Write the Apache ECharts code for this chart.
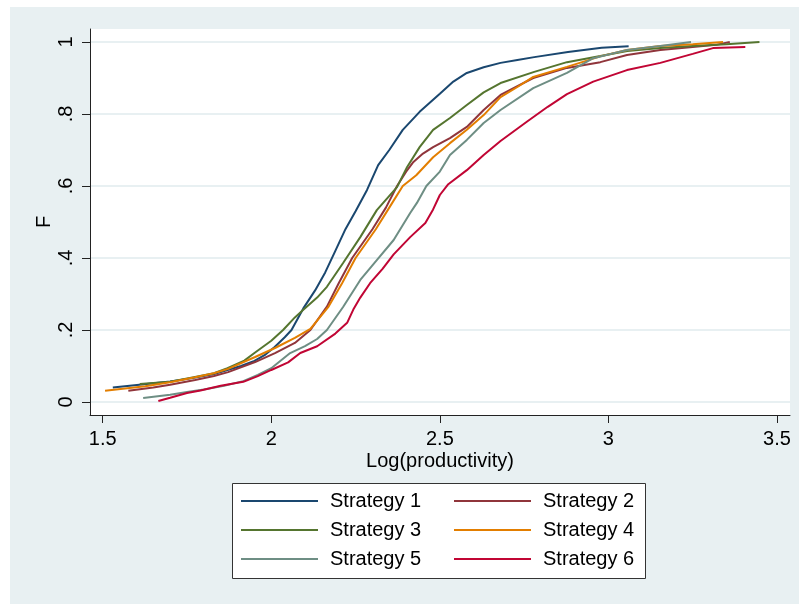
<!DOCTYPE html>
<html>
<head>
<meta charset="utf-8">
<script src="https://cdn.jsdelivr.net/npm/echarts@6/dist/echarts.min.js"></script>
<style>html,body{margin:0;padding:0;background:#fff}#c{width:799px;height:604px}</style>
</head>
<body>
<div id="c"></div>
<script>
var seriesNames = ['Strategy 1','Strategy 2','Strategy 3','Strategy 4','Strategy 5','Strategy 6'];
var seriesColors = ['#1a476f','#90353b','#55752f','#e37e00','#6e8e84','#c10534'];
var xTicks = [1.5, 2, 2.5, 3, 3.5];
var xTickLabels = ['1.5','2','2.5','3','3.5'];
var yTicks = [0, 0.2, 0.4, 0.6, 0.8, 1];
var yTickLabels = ['0','.2','.4','.6','.8','1'];

var strategy1 = [[1.53,0.04],[1.63,0.05],[1.70,0.057],[1.77,0.067],[1.83,0.078],[1.87,0.089],[1.91,0.10],[1.95,0.114],[1.98,0.13],[2.01,0.153],[2.04,0.18],[2.06,0.20],[2.095,0.26],[2.13,0.31],[2.16,0.36],[2.19,0.42],[2.22,0.48],[2.25,0.53],[2.284,0.589],[2.317,0.658],[2.35,0.70],[2.39,0.756],[2.44,0.806],[2.50,0.856],[2.54,0.89],[2.58,0.914],[2.63,0.93],[2.68,0.942],[2.73,0.95],[2.78,0.958],[2.88,0.972],[2.98,0.984],[3.06,0.988]];
var strategy2 = [[1.576,0.031],[1.65,0.04],[1.70,0.048],[1.774,0.061],[1.83,0.072],[1.872,0.083],[1.952,0.111],[2.011,0.136],[2.07,0.164],[2.116,0.2],[2.165,0.265],[2.20,0.33],[2.24,0.4],[2.30,0.48],[2.34,0.54],[2.373,0.6],[2.40,0.64],[2.42,0.665],[2.45,0.69],[2.48,0.708],[2.53,0.733],[2.58,0.764],[2.63,0.811],[2.68,0.853],[2.777,0.9],[2.877,0.928],[2.976,0.944],[3.055,0.964],[3.154,0.978],[3.25,0.986],[3.32,0.992],[3.36,1.0]];
var strategy3 = [[1.61,0.05],[1.70,0.056],[1.77,0.069],[1.83,0.08],[1.87,0.094],[1.92,0.115],[1.95,0.136],[2.00,0.17],[2.035,0.2],[2.07,0.235],[2.095,0.256],[2.136,0.29],[2.165,0.32],[2.213,0.386],[2.264,0.458],[2.313,0.533],[2.373,0.597],[2.403,0.653],[2.44,0.708],[2.48,0.756],[2.53,0.789],[2.58,0.825],[2.63,0.86],[2.68,0.886],[2.78,0.917],[2.877,0.944],[2.976,0.961],[3.056,0.975],[3.154,0.983],[3.25,0.989],[3.35,0.994],[3.448,1.0]];
var strategy4 = [[1.507,0.031],[1.626,0.044],[1.70,0.055],[1.774,0.069],[1.83,0.08],[1.872,0.092],[1.952,0.125],[2.011,0.15],[2.07,0.178],[2.116,0.203],[2.17,0.265],[2.21,0.33],[2.25,0.4],[2.31,0.48],[2.35,0.54],[2.39,0.6],[2.43,0.63],[2.48,0.68],[2.53,0.719],[2.58,0.756],[2.63,0.797],[2.68,0.847],[2.73,0.875],[2.777,0.903],[2.877,0.931],[2.976,0.96],[3.055,0.978],[3.154,0.989],[3.25,0.994],[3.34,1.0]];
var strategy5 = [[1.62,0.011],[1.70,0.02],[1.75,0.028],[1.80,0.035],[1.86,0.045],[1.917,0.058],[1.96,0.075],[2.0,0.094],[2.056,0.136],[2.10,0.155],[2.136,0.175],[2.165,0.2],[2.213,0.264],[2.264,0.339],[2.313,0.394],[2.363,0.45],[2.412,0.525],[2.432,0.553],[2.46,0.6],[2.50,0.64],[2.53,0.686],[2.58,0.728],[2.63,0.775],[2.68,0.811],[2.777,0.872],[2.877,0.914],[2.955,0.955],[3.055,0.978],[3.154,0.989],[3.245,1.0]];
var strategy6 = [[1.665,0.003],[1.70,0.012],[1.75,0.025],[1.79,0.032],[1.85,0.045],[1.917,0.056],[1.96,0.072],[2.0,0.089],[2.05,0.11],[2.086,0.136],[2.136,0.155],[2.19,0.19],[2.225,0.22],[2.245,0.26],[2.264,0.29],[2.293,0.33],[2.33,0.37],[2.363,0.41],[2.412,0.458],[2.457,0.497],[2.48,0.535],[2.50,0.575],[2.525,0.605],[2.58,0.644],[2.63,0.686],[2.68,0.725],[2.76,0.78],[2.82,0.82],[2.877,0.855],[2.955,0.89],[3.055,0.922],[3.154,0.942],[3.25,0.967],[3.31,0.983],[3.406,0.986]];
var seriesData = [strategy1, strategy2, strategy3, strategy4, strategy5, strategy6];

var FONT = 'Arial, "Liberation Sans", sans-serif';
var chart = echarts.init(document.getElementById('c'), null, {renderer: 'canvas'});

var series = seriesNames.map(function (n, i) {
  return {
    name: n, type: 'line', data: seriesData[i], showSymbol: false, symbol: 'none',
    lineStyle: {color: seriesColors[i], width: 2}, itemStyle: {color: seriesColors[i]},
    animation: false, z: 3
  };
});

// legend layout: 2 columns x 3 rows
var legendCols = [241, 454];
var legendRows = [502, 531, 560];
var legends = seriesNames.map(function (n, i) {
  return {
    data: [n], left: legendCols[i % 2], top: legendRows[Math.floor(i / 2)] - 11,
    padding: 0, icon: 'rect', itemWidth: 77, itemHeight: 2.2, itemGap: 0,
    selectedMode: false,
    textStyle: {fontSize: 20, color: '#000', fontFamily: FONT, padding: [0, 0, 0, 7]}
  };
});

chart.setOption({
  animation: false,
  backgroundColor: '#ffffff',
  graphic: [
    {type: 'rect', shape: {x: 10, y: 7, width: 789, height: 597}, style: {fill: '#E8F0F2'}, z: -10, silent: true},
    {type: 'rect', shape: {x: 232.5, y: 483.5, width: 413, height: 95}, style: {fill: '#ffffff', stroke: '#333', lineWidth: 1}, z: 0, silent: true}
  ],
  grid: {left: 90, right: 9, top: 29, bottom: 189, show: true, backgroundColor: '#ffffff', borderWidth: 0, containLabel: false},
  legend: legends,
  xAxis: {
    type: 'value', min: 1.4623, max: 3.5386,
    name: 'Log(productivity)', nameLocation: 'middle', nameGap: 36, nameMoveOverlap: false,
    nameTextStyle: {fontSize: 20, color: '#000', fontFamily: FONT},
    axisLine: {show: true, onZero: false, lineStyle: {color: '#222', width: 1}},
    axisTick: {show: true, length: 8, lineStyle: {color: '#222'}, customValues: xTicks},
    axisLabel: {fontSize: 20, color: '#000', fontFamily: FONT, margin: 14, customValues: xTicks,
      formatter: function (v) { var k = xTicks.indexOf(v); return k >= 0 ? xTickLabels[k] : ''; }},
    splitLine: {show: false}
  },
  yAxis: {
    type: 'value', min: -0.0361, max: 1.0361,
    name: 'F', nameLocation: 'middle', nameGap: 36, nameRotate: 90, nameMoveOverlap: false,
    nameTextStyle: {fontSize: 20, color: '#000', fontFamily: FONT},
    axisLine: {show: true, onZero: false, lineStyle: {color: '#222', width: 1}},
    axisTick: {show: true, length: 8, lineStyle: {color: '#222'}, customValues: yTicks},
    axisLabel: {fontSize: 20, color: '#000', fontFamily: FONT, rotate: 90, margin: 14, customValues: yTicks,
      formatter: function (v) { for (var k = 0; k < yTicks.length; k++) { if (Math.abs(yTicks[k] - v) < 1e-9) return yTickLabels[k]; } return ''; }},
    splitLine: {show: true, lineStyle: {color: '#E8F0F2', width: 2}}
  },
  series: series
});
</script>
</body>
</html>
